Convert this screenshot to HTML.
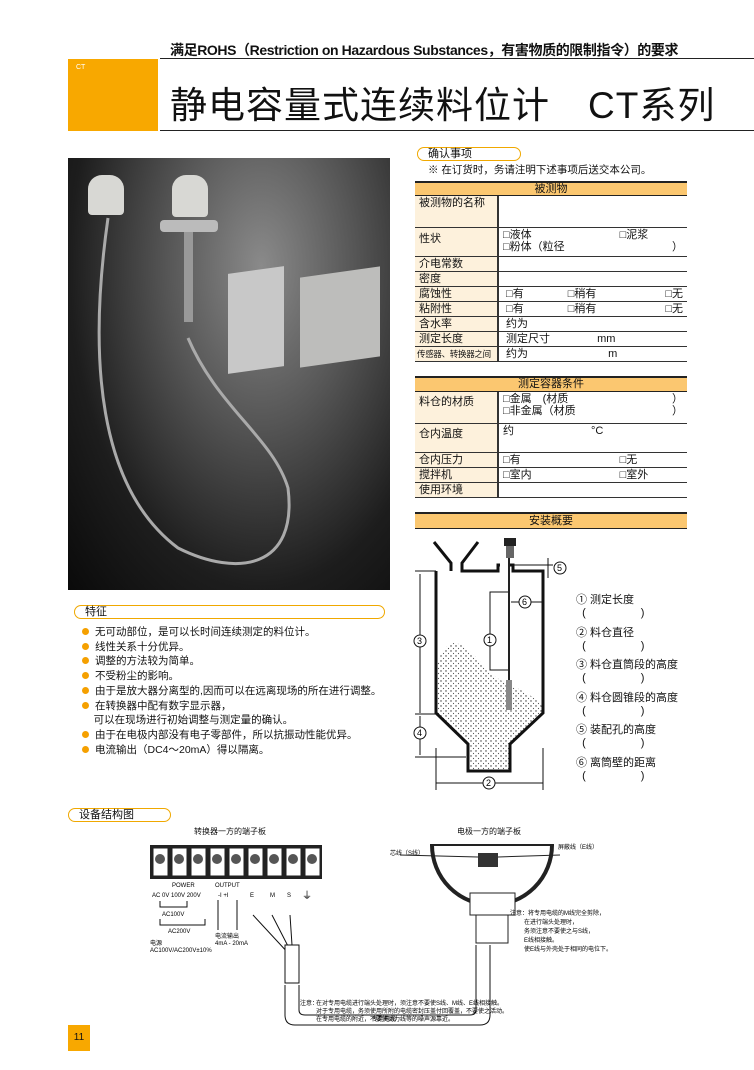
<!DOCTYPE html>
<html><head><meta charset="utf-8"><style>
*{margin:0;padding:0;box-sizing:border-box}
body{width:754px;height:1070px;background:#fff;position:relative;overflow:hidden;font-family:"Liberation Sans","Noto Sans CJK SC",sans-serif;color:#111}
.a{position:absolute;white-space:nowrap}
.pill{position:absolute;border:1px solid #f0a800;border-radius:8px;height:14px;font-size:11px;line-height:12px;padding-left:10px}
.hd{position:absolute;left:415px;width:272px;background:#fbc770;border-top:2px solid #222;border-bottom:1px solid #222;font-size:11px;text-align:center}
.tb{position:absolute;left:415px;width:272px;border-collapse:collapse;font-size:11px}
.tb td{border-bottom:1px solid #333;vertical-align:top;padding:1px 4px;line-height:12px}
.tb td.l{background:#fdf1dc;width:83px;border-right:2px solid #333}
.li{font-size:10.5px;line-height:14.7px}
.li span{display:inline-block;width:7px;height:7px;border-radius:50%;background:#f5a000;margin-right:6px}
</style></head><body>
<div class="a" style="left:170px;top:40px;font-size:14px;font-weight:bold;letter-spacing:-0.4px">满足ROHS（Restriction on Hazardous Substances，有害物质的限制指令）的要求</div>
<div class="a" style="left:160px;top:58px;width:594px;border-top:1px solid #222"></div>
<div class="a" style="left:68px;top:59px;width:90px;height:72px;background:#f8a800"></div>
<div class="a" style="left:76px;top:64px;font-size:7px;color:#fff">CT</div>
<div class="a" style="left:170px;top:84px;font-size:37px;line-height:44px;letter-spacing:1px">静电容量式连续料位计　CT系列</div>
<div class="a" style="left:160px;top:130px;width:594px;border-top:1px solid #222"></div>

<!-- photo -->
<div class="a" style="left:68px;top:158px;width:322px;height:432px;background:radial-gradient(ellipse at 60% 25%,#8a8a8a 0%,#555 35%,#1d1d1d 70%,#0a0a0a 100%)"></div>
<div class="a" style="left:88px;top:175px;width:36px;height:40px;background:#d8d8d4;border-radius:14px 14px 4px 4px"></div>
<div class="a" style="left:172px;top:175px;width:36px;height:42px;background:#d8d8d4;border-radius:14px 14px 4px 4px"></div>
<div class="a" style="left:160px;top:220px;width:58px;height:12px;background:#bbb;border-radius:4px"></div>
<div class="a" style="left:184px;top:232px;width:9px;height:90px;background:#999"></div>
<div class="a" style="left:228px;top:270px;width:56px;height:100px;background:#c8c8c8;transform:skewY(-8deg)"></div>
<div class="a" style="left:300px;top:272px;width:80px;height:90px;background:#bdbdbb;transform:skewY(-8deg)"></div>
<svg class="a" style="left:68px;top:158px" width="322" height="432"><path d="M40 60 C20 200,30 330,110 390 C170 420,230 410,220 330 C205 280,150 250,120 180" fill="none" stroke="#aaa" stroke-width="3"/></svg>

<!-- confirm -->
<div class="pill" style="left:417px;top:147px;width:104px">确认事项</div>
<div class="a" style="left:428px;top:162px;font-size:10.5px">※ 在订货时，务请注明下述事项后送交本公司。</div>
<div class="hd" style="top:181px;height:15px;line-height:12px">被测物</div>
<table class="tb" style="top:196px">
<tr style="height:31px"><td class="l">被测物的名称</td><td></td></tr>
<tr style="height:29px"><td class="l" style="padding-top:5px">性状</td><td>□液体　　　　　　　　□泥浆<br>□粉体（粒径<span style="float:right">）</span></td></tr>
<tr style="height:15px"><td class="l">介电常数</td><td></td></tr>
<tr style="height:15px"><td class="l">密度</td><td></td></tr>
<tr style="height:15px"><td class="l">腐蚀性</td><td>&nbsp;□有　　　　□稍有<span style="float:right">□无</span></td></tr>
<tr style="height:15px"><td class="l">粘附性</td><td>&nbsp;□有　　　　□稍有<span style="float:right">□无</span></td></tr>
<tr style="height:15px"><td class="l">含水率</td><td>&nbsp;约为</td></tr>
<tr style="height:15px"><td class="l">测定长度</td><td>&nbsp;测定尺寸　　　　 mm</td></tr>
<tr style="height:15px"><td class="l" style="font-size:8.5px;padding:1px 2px;letter-spacing:-0.3px">传感器、转换器之间</td><td>&nbsp;约为　　　　　　　 m</td></tr>
</table>
<div class="hd" style="top:376px;height:16px;line-height:13px">测定容器条件</div>
<table class="tb" style="top:392px">
<tr style="height:31px"><td class="l" style="padding-top:4px">料仓的材质</td><td>□金属　(材质<span style="float:right">）</span><br>□非金属（材质<span style="float:right">）</span></td></tr>
<tr style="height:29px"><td class="l" style="padding-top:4px">仓内温度</td><td>约　　　　　　　°C</td></tr>
<tr style="height:15px"><td class="l">仓内压力</td><td>□有　　　　　　　　　□无</td></tr>
<tr style="height:15px"><td class="l">搅拌机</td><td>□室内　　　　　　　　□室外</td></tr>
<tr style="height:15px"><td class="l">使用环境</td><td></td></tr>
</table>
<div class="hd" style="top:512px;height:17px;line-height:14px">安装概要</div>

<!-- tank -->
<svg class="a" style="left:400px;top:530px" width="300" height="270" font-family="Liberation Sans" font-size="9">
<defs><pattern id="dt" width="5" height="5" patternUnits="userSpaceOnUse"><circle cx="1" cy="1" r="0.7" fill="#333"/><circle cx="3.5" cy="3.5" r="0.6" fill="#555"/></pattern></defs>
<path d="M36 137 C40 125,45 113,55 113 C70 115,85 140,100 150 C120 160,135 165,143 178 L143 183 L110 214 L110 241 L68 241 L68 214 L36 183 Z" fill="url(#dt)"/>
<path d="M36 41 L36 183 L68 214 L68 241 L110 241 L110 214 L143 183 L143 41 L113 41 L113 35 L108 35 M100 35 L98 35 L98 41 L62 41 L62 33 L78 12 M51 41 L51 33 L34 12" fill="none" stroke="#111" stroke-width="3"/>
<rect x="104" y="8" width="12" height="8" fill="#222"/><rect x="106" y="16" width="8" height="12" fill="#666"/>
<line x1="109" y1="28" x2="109" y2="178" stroke="#222" stroke-width="2"/><rect x="106" y="150" width="6" height="30" fill="#888"/>
<polyline points="108,62 90,62 90,140 108,140" fill="none" stroke="#111"/>
<circle cx="90" cy="110" r="6" fill="#fff" stroke="#111"/><text x="87" y="113">1</text>
<line x1="20" y1="44" x2="20" y2="183" stroke="#111"/><line x1="20" y1="186" x2="20" y2="225" stroke="#111"/>
<line x1="15" y1="41" x2="36" y2="41" stroke="#111"/><line x1="15" y1="184" x2="36" y2="184" stroke="#111"/><line x1="15" y1="227" x2="66" y2="227" stroke="#111"/>
<circle cx="20" cy="111" r="6" fill="#fff" stroke="#111"/><text x="17" y="114">3</text>
<circle cx="20" cy="203" r="6" fill="#fff" stroke="#111"/><text x="17" y="206">4</text>
<line x1="36" y1="218" x2="36" y2="260" stroke="#111"/><line x1="143" y1="218" x2="143" y2="260" stroke="#111"/>
<line x1="36" y1="253" x2="143" y2="253" stroke="#111"/><circle cx="89" cy="253" r="6" fill="#fff" stroke="#111"/><text x="86" y="256">2</text>
<line x1="111" y1="72" x2="143" y2="72" stroke="#111"/><circle cx="125" cy="72" r="6" fill="#fff" stroke="#111"/><text x="122" y="75">6</text>
<line x1="113" y1="35" x2="153" y2="35" stroke="#111"/><line x1="148" y1="28" x2="148" y2="48" stroke="#111"/>
<circle cx="160" cy="38" r="6" fill="#fff" stroke="#111"/><text x="157" y="41">5</text>
</svg>
<div class="a" style="left:576px;top:594px;font-size:11px;line-height:13px">① 测定长度<br>&nbsp;&nbsp;(　　　　　)</div>
<div class="a" style="left:576px;top:627px;font-size:11px;line-height:13px">② 料仓直径<br>&nbsp;&nbsp;(　　　　　)</div>
<div class="a" style="left:576px;top:659px;font-size:11px;line-height:13px">③ 料仓直筒段的高度<br>&nbsp;&nbsp;(　　　　　)</div>
<div class="a" style="left:576px;top:692px;font-size:11px;line-height:13px">④ 料仓圆锥段的高度<br>&nbsp;&nbsp;(　　　　　)</div>
<div class="a" style="left:576px;top:724px;font-size:11px;line-height:13px">⑤ 装配孔的高度<br>&nbsp;&nbsp;(　　　　　)</div>
<div class="a" style="left:576px;top:757px;font-size:11px;line-height:13px">⑥ 离筒壁的距离<br>&nbsp;&nbsp;(　　　　　)</div>

<!-- features -->
<div class="pill" style="left:74px;top:605px;width:311px">特征</div>
<div class="a li" style="left:82px;top:625px">
<div><span></span>无可动部位，是可以长时间连续测定的料位计。</div>
<div><span></span>线性关系十分优异。</div>
<div><span></span>调整的方法较为简单。</div>
<div><span></span>不受粉尘的影响。</div>
<div><span></span>由于是放大器分离型的,因而可以在远离现场的所在进行调整。</div>
<div><span></span>在转换器中配有数字显示器，<br>&nbsp;&nbsp;&nbsp;&nbsp;可以在现场进行初始调整与测定量的确认。</div>
<div><span></span>由于在电极内部没有电子零部件，所以抗振动性能优异。</div>
<div><span></span>电流输出（DC4～20mA）得以隔离。</div>
</div>

<!-- structure -->
<div class="pill" style="left:68px;top:808px;width:103px">设备结构图</div>
<div class="a" style="left:194px;top:826px;font-size:8px">转换器一方的端子板</div>
<div class="a" style="left:457px;top:826px;font-size:8px">电极一方的端子板</div>
<svg class="a" style="left:140px;top:835px" width="500" height="195" font-family="Liberation Sans" font-size="6">
<rect x="10" y="10" width="172" height="34" fill="#222"/>
<g fill="#fff" stroke="#222">
<rect x="13" y="13" width="15" height="28"/><rect x="32" y="13" width="15" height="28"/><rect x="51" y="13" width="15" height="28"/><rect x="70" y="13" width="15" height="28"/><rect x="89" y="13" width="15" height="28"/><rect x="108" y="13" width="15" height="28"/><rect x="127" y="13" width="15" height="28"/><rect x="146" y="13" width="15" height="28"/><rect x="165" y="13" width="15" height="28"/>
</g>
<g fill="#555"><circle cx="20" cy="24" r="5"/><circle cx="39" cy="24" r="5"/><circle cx="58" cy="24" r="5"/><circle cx="77" cy="24" r="5"/><circle cx="96" cy="24" r="5"/><circle cx="115" cy="24" r="5"/><circle cx="134" cy="24" r="5"/><circle cx="153" cy="24" r="5"/><circle cx="172" cy="24" r="5"/></g>
<text x="32" y="52">POWER</text><text x="75" y="52">OUTPUT</text>
<text x="12" y="62">AC 0V  100V  200V</text><text x="78" y="62">-I    +I</text><text x="110" y="62">E</text><text x="130" y="62">M</text><text x="147" y="62">S</text><text x="162" y="64" font-size="10">⏚</text>
<path d="M20 66 V72 H47 V66 M20 84 V90 H65 V84" fill="none" stroke="#111"/>
<text x="22" y="81">AC100V</text><text x="28" y="98">AC200V</text>
<text x="10" y="110">电源</text><text x="10" y="117">AC100V/AC200V±10%</text>
<line x1="78" y1="65" x2="78" y2="95" stroke="#111"/><line x1="97" y1="65" x2="97" y2="95" stroke="#111"/>
<text x="75" y="103">电流输出</text><text x="75" y="110">4mA - 20mA</text>
<path d="M113 80 L150 120 M132 80 L150 115 M150 80 L152 110" stroke="#111" fill="none"/>
<rect x="145" y="110" width="14" height="38" fill="#fff" stroke="#111"/>
<path d="M145 150 V180 Q145 190 155 190 H340 Q350 190 350 180 V110 M159 150 V175 Q159 180 165 180 H330 Q336 180 336 175 V110" fill="none" stroke="#111"/>
<text x="232" y="186">专用电缆</text>
<path d="M292 10 A60 60 0 0 0 412 10" fill="#fff" stroke="#222" stroke-width="4"/>
<line x1="290" y1="10" x2="414" y2="10" stroke="#222" stroke-width="2"/>
<rect x="338" y="18" width="20" height="14" fill="#333"/>
<rect x="330" y="58" width="45" height="22" fill="#fff" stroke="#222"/>
<rect x="336" y="80" width="32" height="28" fill="#fff" stroke="#222"/>
<line x1="260" y1="20" x2="338" y2="22" stroke="#222"/><line x1="420" y1="20" x2="358" y2="22" stroke="#222"/>
<text x="250" y="20">芯线（S线）</text><text x="418" y="14">屏蔽线（E线）</text>
<text x="370" y="80">注意：将专用电缆的M线完全剪除，</text>
<text x="384" y="89">在进行端头处理时，</text><text x="384" y="98">务须注意不要使之与S线，</text>
<text x="384" y="107">E线相接触。</text><text x="384" y="116">使E线与外壳处于相同的电位下。</text>
<text x="160" y="170">注意：</text><text x="176" y="170">在对专用电缆进行端头处理时，须注意不要使S线、M线、E线相接触。</text>
<text x="176" y="178">对于专用电缆，务须使用所附的电缆密封压盖付回覆盖，不要使之活动。</text>
<text x="176" y="186">在专用电缆的附近，不要使动力线等的噪声源靠近。</text>
</svg>
<div class="a" style="left:68px;top:1025px;width:22px;height:26px;background:#f8a800;font-size:10px;text-align:center;line-height:26px">11</div>
</body></html>
